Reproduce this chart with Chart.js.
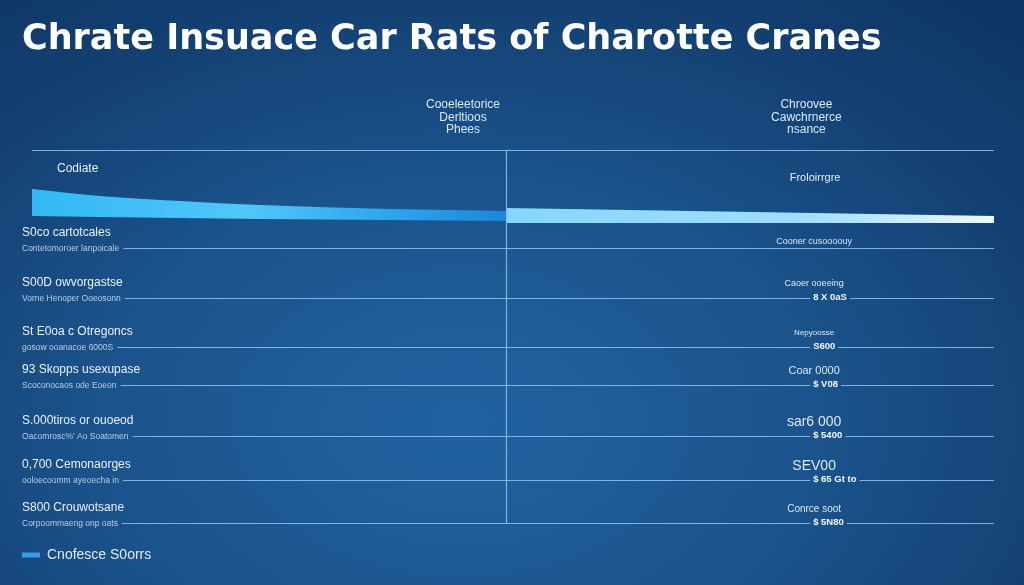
<!DOCTYPE html>
<html>
<head>
<meta charset="utf-8">
<title>Chrate Insuace Car Rats of Charotte Cranes</title>
<script src="https://cdn.jsdelivr.net/npm/chart.js@4.4.0/dist/chart.umd.min.js"></script>
<style>
  html, body { margin: 0; padding: 0; }
  body {
    width: 1024px; height: 585px; overflow: hidden;
    background: radial-gradient(ellipse 80% 95% at 45% 72%, #2262a2 0%, #1b548d 42%, #133f71 78%, #0e3664 100%);
  }
  .wrap { position: relative; width: 1024px; height: 585px; }
</style>
</head>
<body>
<div class="wrap"><canvas id="ratesChart"></canvas></div>
<script>
const titleText = 'Chrate Insuace Car Rats of Charotte Cranes';
const leftHeader = ['Cooeleetorice', 'Derltioos', 'Phees'];
const rightHeader = ['Chroovee', 'Cawchrnerce', 'nsance'];
const leftBandName = 'Codiate';
const rightBandName = 'Froloirrgre';
const legendName = 'Cnofesce S0orrs';

// band: x = position across the table (0-100), y = depth below the top rule
const leftX = [0, 7.1, 15.4, 23.7, 37.2, 49.3];
const leftUpper = [39, 46, 51, 55, 59, 61];
const leftLower = [66, 67, 68, 69, 70, 71];
const rightX = [49.3, 75, 100];
const rightUpper = [58, 62, 66];
const rightLower = [73, 73, 73];
const dividerX = 49.3;

// rows of the table
const rowTicks = [98, 148, 197, 235, 286, 330, 373];
const rowNames = ['S0co cartotcales', 'S00D owvorgastse', 'St E0oa c Otregoncs', '93 Skopps usexupase',
  'S.000tiros or ouoeod', '0,700 Cemonaorges', 'S800 Crouwotsane'];
const rowNotes = ['Contetomoroer lanpoicale', 'Vorne Henoper Ooeosonn', 'gosow ooanacoe 6000S',
  'Scoconocaos ode Eoeon', "Oacomrosc%' Ao Soatomen", 'ooloecoomm ayeoecha in', 'Corpoommaeng onp oats'];
const rowRightNames = ['Cooner cusoooouy', 'Caoer ooeeing', 'Nepyoosse', 'Coar 0000', 'sar6 000', 'SEV00', 'Conrce soot'];
const rowRightValues = ['', '8 X 0aS', 'S600', '$ V08', '$ 5400', '$ 65 Gt to', '$ 5N80'];

const pts = (xs, ys) => xs.map((v, i) => ({ x: v, y: ys[i] }));

function bandFill(from, to, stops) {
  return function (context) {
    const { ctx, chartArea, scales } = context.chart;
    if (!chartArea) return stops[0][1];
    const g = ctx.createLinearGradient(scales.x.getPixelForValue(from), 0, scales.x.getPixelForValue(to), 0);
    stops.forEach(s => g.addColorStop(s[0], s[1]));
    return g;
  };
}

function rule(ctx, x1, y1, x2, y2) {
  ctx.beginPath();
  ctx.moveTo(x1, y1);
  ctx.lineTo(x2, y2);
  ctx.stroke();
}

const tablePlugin = {
  id: 'tableText',
  afterDatasetsDraw(chart) {
    const { ctx, chartArea, scales: { x, y } } = chart;
    const px = v => x.getPixelForValue(v);
    const py = v => Math.round(y.getPixelForValue(v)) + 0.5;
    const left = chartArea.left;
    const right = px(100);
    ctx.save();
    ctx.strokeStyle = 'rgba(145, 195, 242, 0.85)';
    ctx.lineWidth = 1.2;

    // top rule + divider
    rule(ctx, px(0), py(0), right, py(0));
    const dx = Math.round(px(dividerX)) + 0.5;
    rule(ctx, dx, py(0), dx, py(rowTicks[rowTicks.length - 1]));

    // headers
    ctx.fillStyle = '#dbe7f5';
    ctx.textAlign = 'center';
    ctx.textBaseline = 'middle';
    ctx.font = '12px "Liberation Sans"';
    leftHeader.forEach((t, i) => ctx.fillText(t, px(44.8), y.getPixelForValue(-45 + i * 12.5)));
    rightHeader.forEach((t, i) => ctx.fillText(t, px(80.5), y.getPixelForValue(-45 + i * 12.5)));

    ctx.textAlign = 'left';
    ctx.fillStyle = '#e6eef8';
    ctx.fillText(leftBandName, px(2.6), y.getPixelForValue(19));
    ctx.textAlign = 'center';
    ctx.font = '11px "Liberation Sans"';
    ctx.fillText(rightBandName, px(81.4), y.getPixelForValue(28));

    // rows
    const rightSizes = [9, 9, 8, 11, 14, 14, 10];
    rowTicks.forEach((v, i) => {
      const ly = py(v);
      ctx.textAlign = 'left';
      ctx.fillStyle = '#e8f0fa';
      ctx.font = '12px "Liberation Sans"';
      ctx.fillText(rowNames[i], left, y.getPixelForValue(v) - 15);
      ctx.fillStyle = '#b9cde4';
      ctx.font = '8.5px "Liberation Sans"';
      ctx.fillText(rowNotes[i], left, ly);
      const startX = left + ctx.measureText(rowNotes[i]).width + 4;

      ctx.fillStyle = '#dbe7f5';
      ctx.textAlign = 'center';
      ctx.font = rightSizes[i] + 'px "Liberation Sans"';
      ctx.fillText(rowRightNames[i], px(81.3), y.getPixelForValue(v) - (i === 0 ? 6 : 14));

      let gapA = null, gapB = null;
      if (rowRightValues[i]) {
        ctx.textAlign = 'left';
        ctx.fillStyle = '#f2f7fc';
        ctx.font = 'bold 9.5px "Liberation Sans"';
        const vx = px(81.2);
        ctx.fillText(rowRightValues[i], vx, y.getPixelForValue(v) - 1);
        gapA = vx - 3;
        gapB = vx + ctx.measureText(rowRightValues[i]).width + 3;
      }
      if (gapA === null) {
        rule(ctx, startX, ly, right, ly);
      } else {
        rule(ctx, startX, ly, gapA, ly);
        rule(ctx, gapB, ly, right, ly);
      }
    });
    ctx.restore();
  }
};

const ctx = document.getElementById('ratesChart').getContext('2d');
const chart = new Chart(ctx, {
  type: 'line',
  data: {
    datasets: [
      {
        label: legendName,
        data: pts(leftX, leftUpper),
        fill: '+1',
        backgroundColor: bandFill(0, dividerX, [[0, '#33b8f3'], [0.45, '#52c6f9'], [0.8, '#2aa0ea'], [1, '#1a86d8']]),
        borderWidth: 0,
        pointRadius: 0,
        cubicInterpolationMode: 'monotone'
      },
      {
        label: 'leftLower',
        data: pts(leftX, leftLower),
        fill: false,
        borderWidth: 0,
        pointRadius: 0
      },
      {
        label: 'rightUpper',
        data: pts(rightX, rightUpper),
        fill: '+1',
        backgroundColor: bandFill(dividerX, 100, [[0, '#86d6fb'], [0.6, '#9fdefd'], [0.85, '#cdeeff'], [1, '#f0faff']]),
        borderWidth: 0,
        pointRadius: 0
      },
      {
        label: 'rightLower',
        data: pts(rightX, rightLower),
        fill: false,
        borderWidth: 0,
        pointRadius: 0
      }
    ]
  },
  options: {
    responsive: true,
    maintainAspectRatio: false,
    animation: false,
    events: [],
    layout: { padding: { left: 22, right: 22, top: 0, bottom: 13 } },
    scales: {
      x: { type: 'linear', min: -1.04, max: 100.83, display: false },
      y: { type: 'linear', reverse: true, min: 0, max: 398, display: false }
    },
    plugins: {
      tooltip: { enabled: false },
      title: {
        display: true,
        text: titleText,
        align: 'start',
        color: '#ffffff',
        font: { family: 'DejaVu Sans', size: 35, weight: 'bold' },
        padding: { top: 19, bottom: 89 }
      },
      legend: {
        position: 'bottom',
        align: 'start',
        labels: {
          color: '#dfe9f5',
          font: { family: 'Liberation Sans', size: 14 },
          boxWidth: 18,
          boxHeight: 5,
          padding: 0,
          generateLabels: () => [{
            text: legendName,
            fillStyle: '#3a9be8',
            strokeStyle: '#3a9be8',
            lineWidth: 0,
            fontColor: '#dfe9f5',
            datasetIndex: 0
          }]
        }
      }
    }
  },
  plugins: [tablePlugin]
});
</script>
</body>
</html>
